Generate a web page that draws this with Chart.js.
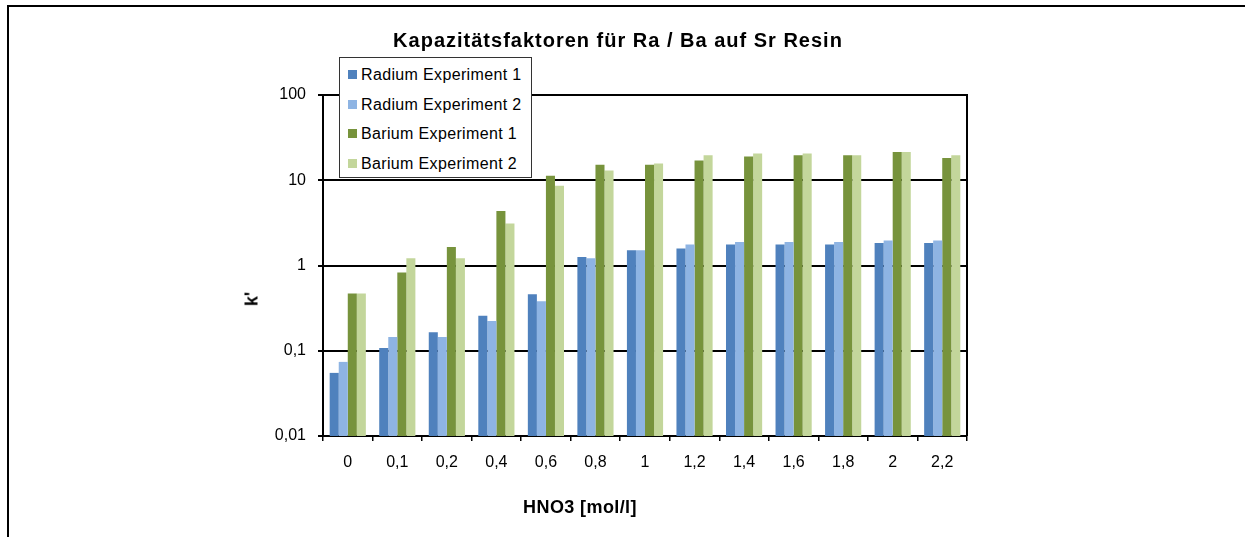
<!DOCTYPE html>
<html>
<head>
<meta charset="utf-8">
<script src="https://cdn.jsdelivr.net/npm/chart.js@4"></script>
<style>
  html, body { margin: 0; padding: 0; background: #fff; }
  body { width: 1245px; height: 537px; position: relative; overflow: hidden; font-family: 'Liberation Sans', Arial, sans-serif; color: #000; }
  #frame { position: absolute; left: 7px; top: 5px; width: 1300px; height: 600px; border-top: 2px solid #000; border-left: 2px solid #000; }
  #wrap { position: absolute; left: 0; top: 0; width: 1245px; height: 537px; }
  .title { position: absolute; font-weight: bold; white-space: nowrap; transform: translate(-50%, -50%); }
  #chart-title { left: 618px; top: 40px; font-size: 20px; letter-spacing: 1px; }
  #x-title { left: 580px; top: 507px; font-size: 18px; letter-spacing: 0.4px; }
  #y-title { left: 252px; top: 299px; font-size: 18px; transform: translate(-50%, -50%) rotate(-90deg); }
  #legend { position: absolute; left: 339px; top: 57px; width: 191px; height: 119px; border: 1px solid #333; background: #fff; }
  .lg-item { position: absolute; left: 8px; font-size: 16px; letter-spacing: 0.35px; white-space: nowrap; line-height: 18px; }
  .lg-item i { display: inline-block; width: 9px; height: 9px; margin-right: 4px; vertical-align: 1px; }
</style>
</head>
<body>
<div id="frame"></div>
<div id="wrap"><canvas id="chart" width="1245" height="537"></canvas></div>
<div class="title" id="chart-title">Kapazitätsfaktoren für Ra / Ba auf Sr Resin</div>
<div class="title" id="x-title">HNO3 [mol/l]</div>
<div class="title" id="y-title">k'</div>
<div id="legend"></div>
<script>
// HNO3 concentrations (mol/l)
const categories = ['0', '0,1', '0,2', '0,4', '0,6', '0,8', '1', '1,2', '1,4', '1,6', '1,8', '2', '2,2'];

// capacity factors k'
const radium1 = [0.055, 0.108, 0.165, 0.258, 0.46, 1.26, 1.51, 1.58, 1.76, 1.76, 1.76, 1.84, 1.84];
const radium2 = [0.074, 0.145, 0.145, 0.223, 0.38, 1.22, 1.51, 1.76, 1.89, 1.89, 1.89, 1.96, 1.96];
const barium1 = [0.47, 0.83, 1.65, 4.36, 11.3, 15.2, 15.2, 17.1, 19.0, 19.7, 19.7, 21.4, 18.3];
const barium2 = [0.47, 1.22, 1.22, 3.1, 8.6, 13.0, 15.7, 19.7, 20.6, 20.6, 19.7, 21.4, 19.7];

const yTickValues = [0.01, 0.1, 1, 10, 100];
const yTickLabels = ['0,01', '0,1', '1', '10', '100'];

const seriesNames = ['Radium Experiment 1', 'Radium Experiment 2', 'Barium Experiment 1', 'Barium Experiment 2'];
const seriesColors = ['#4F81BD', '#8EB4E3', '#77933C', '#C3D69B'];

const font = { family: "'Liberation Sans', Arial, sans-serif", size: 16 };

// top and right edge of the plot area
const plotFrame = {
  id: 'plotFrame',
  afterDatasetsDraw(chart) {
    const a = chart.chartArea;
    const ctx = chart.ctx;
    ctx.save();
    ctx.strokeStyle = '#000';
    ctx.lineWidth = 2;
    ctx.beginPath();
    ctx.moveTo(a.left, a.top);
    ctx.lineTo(a.right, a.top);
    ctx.lineTo(a.right, a.bottom);
    ctx.stroke();
    ctx.restore();
  }
};

const datasets = [radium1, radium2, barium1, barium2].map((d, i) => ({
  label: seriesNames[i],
  data: d,
  backgroundColor: seriesColors[i],
  borderWidth: 0,
  categoryPercentage: 0.73,
  barPercentage: 1.0
}));

const chart = new Chart(document.getElementById('chart'), {
  type: 'bar',
  data: { labels: categories, datasets },
  plugins: [plotFrame],
  options: {
    responsive: false,
    animation: false,
    layout: { padding: { left: 0, top: 95, right: 278, bottom: 0 } },
    plugins: { legend: { display: false }, title: { display: false }, tooltip: { enabled: false } },
    scales: {
      x: {
        afterFit: s => { s.height = 101; },
        grid: { drawOnChartArea: false, drawTicks: true, tickLength: 5, color: '#000', lineWidth: 1.5, offset: true },
        border: { display: true, color: '#000', width: 2 },
        ticks: { color: '#000', font, padding: 12, maxRotation: 0, autoSkip: false }
      },
      y: {
        type: 'logarithmic',
        min: 0.01,
        max: 100,
        afterFit: s => { s.width = 323; },
        afterBuildTicks: s => { s.ticks = yTickValues.map(v => ({ value: v })); },
        grid: { color: '#000', lineWidth: 2, tickLength: 5 },
        border: { display: true, color: '#000', width: 2 },
        ticks: {
          color: '#000', font, padding: 12,
          callback: (v) => {
            const i = yTickValues.findIndex(t => Math.abs(t - v) < t * 1e-6);
            return i >= 0 ? yTickLabels[i] : '';
          }
        }
      }
    }
  }
});

// legend built from the datasets
const legend = document.getElementById('legend');
chart.data.datasets.forEach((ds, i) => {
  const el = document.createElement('div');
  el.className = 'lg-item';
  el.style.top = (8 + i * 29.5) + 'px';
  el.innerHTML = '<i style="background:' + ds.backgroundColor + '"></i>' + ds.label;
  legend.appendChild(el);
});
</script>
</body>
</html>
